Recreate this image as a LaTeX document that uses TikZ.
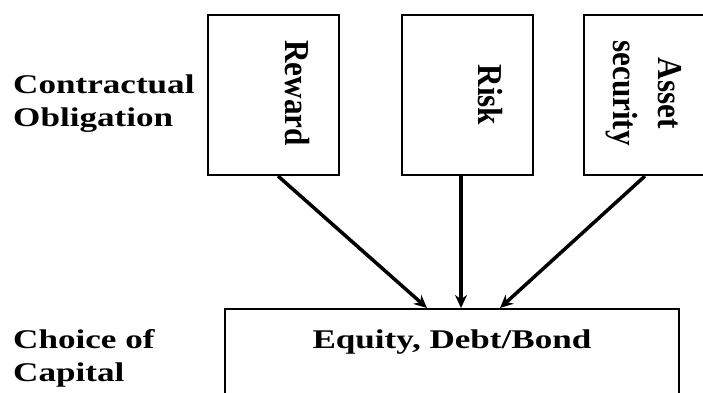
\documentclass[tikz,border=0pt]{standalone}
\usepackage{fontspec}
\setmainfont{Liberation Serif}[FakeStretch=1.3]
\newfontfamily\rotfont{Liberation Serif}[FakeStretch=0.89]
\usetikzlibrary{arrows.meta}

\begin{document}
\begin{tikzpicture}[
  x=1pt, y=-1pt,
  box/.style={draw, line width=2pt, minimum width=131pt, minimum height=160pt, inner sep=0pt},
  side label/.style={font=\fontsize{27}{33}\selectfont\bfseries, align=left, anchor=north west, inner sep=0pt},
  box label/.style={font=\rotfont\fontsize{35}{45}\selectfont\bfseries, rotate=-90, align=center, inner sep=0pt},
  link/.style={line width=3.5pt, -{Stealth[length=13pt, width=12pt]}},
]
  \useasboundingbox (0,0) rectangle (703,392);

  % Side labels
  \node[side label] (contract) at (13,75) {Contractual\\Obligation};
  \node[side label] (choice) at (13,329) {Choice of\\Capital};

  % Obligation boxes
  \node[box] (reward) at (273.5,95) {};
  \node[box] (risk) at (467.5,95) {};
  \node[box] (asset) at (649.5,95) {};
  \node[box label] (rewardtxt) at (297,93) {Reward};
  \node[box label] (risktxt) at (490,95) {Risk};
  \node[box label] (assettxt) at (644,93) {Asset\\security};

  % Capital box
  \node[box, minimum width=454pt, minimum height=120pt] (capital) at (452,369) {};
  \node[font=\fontsize{27}{33}\selectfont\bfseries, anchor=base] (equity) at (452,348) {Equity, Debt/Bond};

  % Arrows
  \draw[link] ([xshift=4.5pt]reward.south) -- ([xshift=-25pt]capital.north);
  \draw[link] ([xshift=-6.5pt]risk.south) -- ([xshift=9pt]capital.north);
  \draw[link] ([xshift=-4.5pt]asset.south) -- ([xshift=48pt]capital.north);
\end{tikzpicture}
\end{document}
